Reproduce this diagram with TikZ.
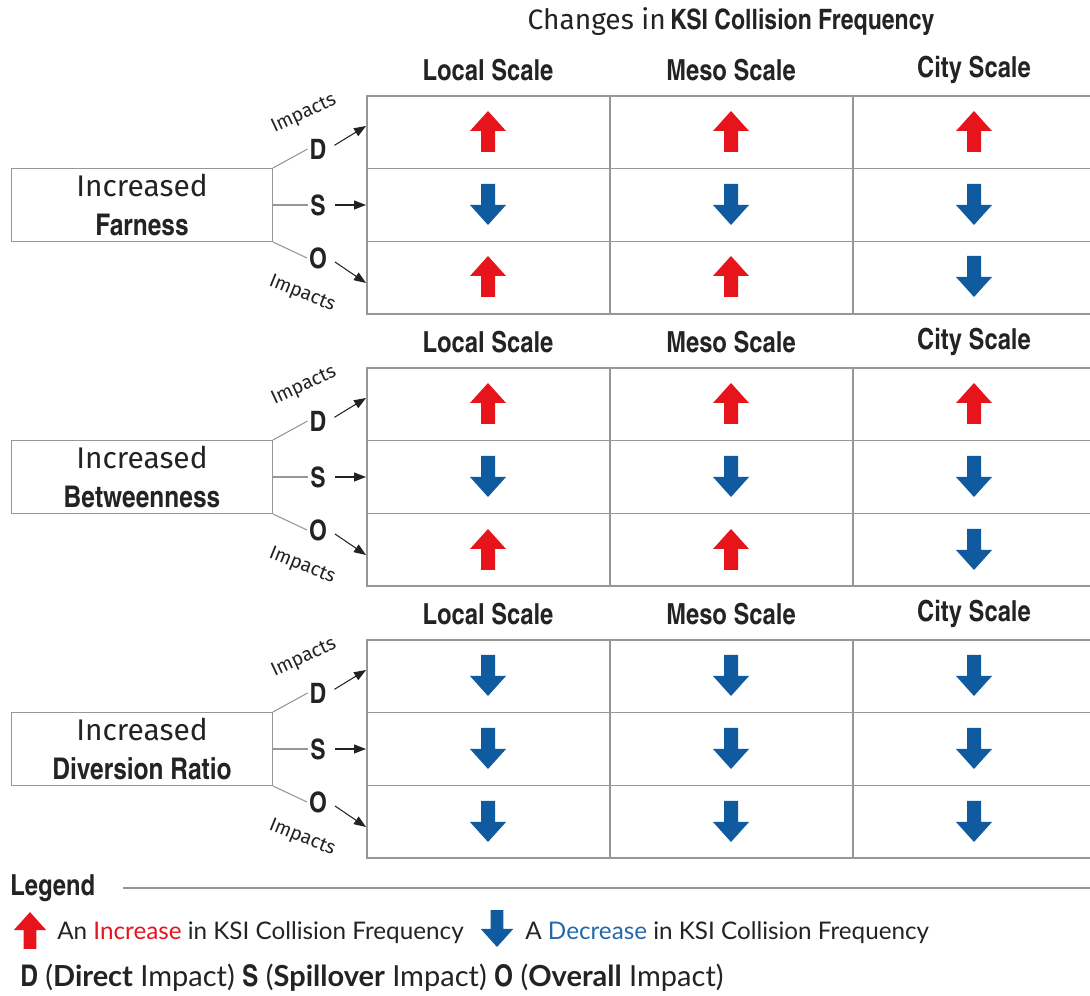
\documentclass[tikz,border=0pt]{standalone}
\usepackage{fontspec}
\setmainfont{Lato}
\newfontfamily\condfont{texgyreheroscn}[Extension=.otf,UprightFont=*-bold,BoldFont=*-bold]
\newfontfamily\handfont{Fira Sans}
\usepackage{tikz}
\usetikzlibrary{arrows.meta}
\definecolor{uparrow}{RGB}{232,20,27}
\definecolor{downarrow}{RGB}{16,90,160}
\definecolor{gridgray}{RGB}{150,150,150}
\definecolor{inktext}{RGB}{35,35,35}
\definecolor{legendblue}{RGB}{35,105,170}

\tikzset{
  incpic/.pic={\fill[uparrow] (0,-21) -- (18,-1) -- (7,-1) -- (7,20) -- (-7,20) -- (-7,-1) -- (-18,-1) -- cycle;},
  decpic/.pic={\fill[downarrow] (0,20) -- (18,0) -- (7,0) -- (7,-21) -- (-7,-21) -- (-7,0) -- (-18,0) -- cycle;},
  gridline/.style={draw=gridgray, line width=0.6pt},
  scalehead/.style={font=\condfont\fontsize{16.5}{20}\selectfont, text=inktext},
  factorbox/.style={draw=gridgray, line width=0.6pt, minimum width=5.22cm, minimum height=1.46cm,
    align=center, inner sep=0pt, font=\condfont\fontsize{17}{20}\selectfont, text=inktext},
  impactletter/.style={font=\condfont\fontsize{16}{19}\selectfont, text=inktext, inner sep=1pt},
  impactword/.style={font=\handfont\fontsize{11}{13}\selectfont, text=inktext, inner sep=0pt},
  branch/.style={draw=gridgray, line width=0.6pt},
  impactarrow/.style={draw=inktext, line width=0.6pt, -{Triangle[length=2.4mm,width=1.8mm]}, shorten <=4pt},
  legendtext/.style={font=\fontsize{13.8}{16}\selectfont, text=inktext, inner sep=0pt, anchor=west}
}
\newcommand{\keyletter}[1]{{\condfont\fontsize{17}{20}\selectfont #1}}

\begin{document}
\begin{tikzpicture}[x=0.02cm, y=-0.02cm]
  \useasboundingbox (0,0) rectangle (1090,996);

  % title
  \node[text=inktext] (title) at (731,22)
    {{\handfont\fontsize{16}{19}\selectfont Changes in} {\condfont\fontsize{16}{19}\selectfont KSI Collision Frequency}};

  \foreach \b/\ytop/\metric in {1/96/Farness, 2/368/Betweenness, 3/640/Diversion Ratio} {
    % scale headers
    \foreach \c/\x/\colname in {1/488/Local Scale, 2/731/Meso Scale, 3/974/City Scale}
      \node[scalehead] (head\b-\c) at (\x,\ytop-26) {\colname};
    % table grid
    \draw[gridline] (1092,\ytop) -| (367,\ytop+218) -- (1092,\ytop+218);
    \foreach \r in {1,2}
      \draw[gridline] (367,\ytop+\r*72.7) -- (1092,\ytop+\r*72.7);
    \foreach \x in {610,853}
      \draw[gridline] (\x,\ytop) -- (\x,\ytop+218);
    % factor box
    \node[factorbox] (box\b) at (142,\ytop+109)
      {{\handfont\fontsize{17}{20}\selectfont Increased}\\[2pt]\metric};
    % D / S / O branches
    \node[impactletter] (D\b) at (318,\ytop+53) {D};
    \node[impactletter] (S\b) at (318,\ytop+109) {S};
    \node[impactletter] (O\b) at (318,\ytop+162) {O};
    \coordinate (Dhit\b) at (366,\ytop+30);
    \coordinate (Shit\b) at (366,\ytop+109);
    \coordinate (Ohit\b) at (366,\ytop+187);
    \draw[branch] (box\b.north east) -- (D\b.west);
    \draw[branch] (box\b.east) -- (S\b.west);
    \draw[branch] (box\b.south east) -- (O\b.west);
    \draw[impactarrow] (D\b.east) -- (Dhit\b);
    \draw[impactarrow] (S\b.east) -- (Shit\b);
    \draw[impactarrow] (O\b.east) -- (Ohit\b);
    \node[impactword, rotate=25] (upword\b) at (304,\ytop+18) {Impacts};
    \node[impactword, rotate=-22] (downword\b) at (302,\ytop+198) {Impacts};
  }

  % changes in each cell
  \foreach \ycell/\pa/\pb/\pc in {132/incpic/incpic/incpic, 205/decpic/decpic/decpic, 277/incpic/incpic/decpic,
                                  404/incpic/incpic/incpic, 477/decpic/decpic/decpic, 550/incpic/incpic/decpic,
                                  676/decpic/decpic/decpic, 749/decpic/decpic/decpic, 822/decpic/decpic/decpic}
    \path (488,\ycell) pic {\pa} (731,\ycell) pic {\pb} (974,\ycell) pic {\pc};

  % legend
  \node[scalehead, anchor=west, inner sep=0pt] (legend) at (10,888) {Legend};
  \coordinate (ruleend) at (1090,888);
  \draw[gridline] ([xshift=0.55cm]legend.east) -- (ruleend);
  \path (30,931) pic[scale=0.9] {incpic} (497,929) pic[scale=0.9] {decpic};
  \node[legendtext] (inclabel) at (57,933) {An \textcolor{uparrow}{Increase} in KSI Collision Frequency};
  \node[legendtext] (declabel) at (525,933) {A \textcolor{legendblue}{Decrease} in KSI Collision Frequency};
  \node[legendtext, font=\fontsize{16.5}{19}\selectfont] (dsolabel) at (20,978)
    {\keyletter{D} (\textbf{Direct} Impact) \keyletter{S} (\textbf{Spillover} Impact) \keyletter{O} (\textbf{Overall} Impact)};
\end{tikzpicture}
\end{document}
